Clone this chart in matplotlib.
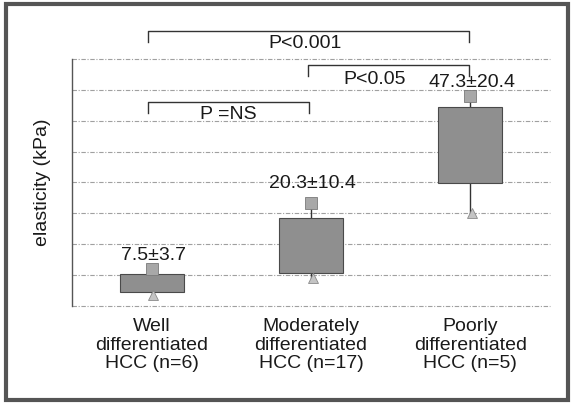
import numpy as np
import matplotlib
matplotlib.use("Agg")
import matplotlib.pyplot as plt
from matplotlib.patches import Rectangle

plt.rcParams['font.family'] = ['Liberation Sans', 'DejaVu Sans']

# values (kPa)
groups = ["Well\ndifferentiated\nHCC (n=6)",
          "Moderately\ndifferentiated\nHCC (n=17)",
          "Poorly\ndifferentiated\nHCC (n=5)"]
box_low = [4.5, 10.7, 39.8]
box_high = [10.4, 28.5, 64.4]
upper_vals = [12.0, 33.3, 68.0]
lower_vals = [3.6, 9.1, 30.1]
mean_sd = ["7.5\u00b13.7", "20.3\u00b110.4", "47.3\u00b120.4"]

# significance brackets: (left group, right group, bar height, label)
comparisons = [(1, 3, 89.0, "P<0.001"),
               (2, 3, 78.0, "P<0.05"),
               (1, 2, 66.0, "P =NS")]

fs = 14
txt_color = '#1a1a1a'

fig = plt.figure(figsize=(5.72, 4.03), dpi=100)
ax = fig.add_axes([0.1259, 0.2407, 0.8356, 0.6129])

x = np.arange(1, len(groups) + 1)

# grid
ax.set_ylim(0, 80)
ax.set_xlim(0.5, 3.5)
ax.set_yticks(np.arange(0, 81, 10))
ax.yaxis.grid(True, color='#a0a0a0', linestyle=(0, (4, 1.5, 1, 1.5)), linewidth=0.8)
for gl in ax.get_ygridlines():
    gl.set_clip_on(False)
ax.set_axisbelow(True)

# whiskers
for xi, lo, hi, bl, bh in zip(x, lower_vals, upper_vals, box_low, box_high):
    ax.plot([xi, xi], [bh, hi], color='#333333', lw=1, zorder=2)
    ax.plot([xi, xi], [lo, bl], color='#333333', lw=1, zorder=2)

# boxes
heights = np.array(box_high) - np.array(box_low)
ax.bar(x, heights, bottom=box_low, width=0.4, color='#8f8f8f',
       edgecolor='#4a4a4a', linewidth=0.8, zorder=3)

ax.plot(x, upper_vals, 's', ms=8, color='#a8a8a8', mec='#7a7a7a', mew=0.6, zorder=4)
ax.plot(x + 0.01, lower_vals, '^', ms=7, color='#c4c4c4', mec='#8a8a8a', mew=0.6, zorder=4)

# mean +/- sd labels
offsets = [2.9, 4.9, 2.9]
for xi, top, off, txt in zip(x, upper_vals, offsets, mean_sd):
    ax.text(xi + 0.01, top + off, txt, ha='center', va='baseline',
            fontsize=fs, color=txt_color, zorder=5)

# brackets
for g1, g2, h, txt in comparisons:
    ax.plot([g1 - 0.02, g1 - 0.02, g2 - 0.01, g2 - 0.01], [h - 3.6, h, h, h - 3.6],
            color='#333333', lw=1, clip_on=False)

ax.text(1.96, 83.5, "P<0.001", ha='center', va='baseline', fontsize=fs, color=txt_color)
ax.text(2.40, 71.8, "P<0.05", ha='center', va='baseline', fontsize=fs, color=txt_color)
ax.text(1.48, 60.5, "P =NS", ha='center', va='baseline', fontsize=fs, color=txt_color)

ax.set_xticks(x)
ax.set_xticklabels(groups, fontsize=fs, color=txt_color, linespacing=1.1)
ax.tick_params(axis='x', length=0, pad=9)
ax.tick_params(axis='y', length=0, labelleft=False)
ax.set_ylabel("elasticity (kPa)", fontsize=fs, color=txt_color, labelpad=15)

for side in ['top', 'right', 'bottom']:
    ax.spines[side].set_visible(False)
ax.spines['left'].set_color('#555555')
ax.spines['left'].set_linewidth(1)

# outer frame
fig.patches.append(Rectangle((0.011, 0.008), 0.982, 0.982, transform=fig.transFigure,
                             fill=False, edgecolor='#555555', linewidth=3))

fig.savefig("out.png", dpi=100)
